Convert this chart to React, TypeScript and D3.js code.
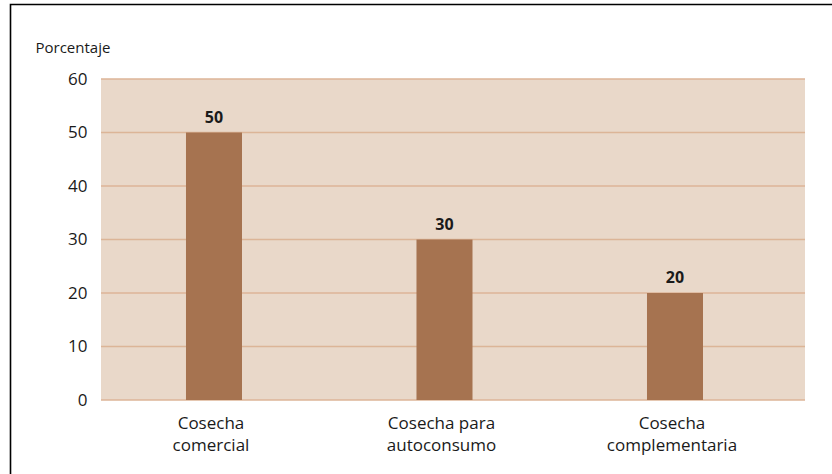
import React from "react";
import * as d3 from "d3";

const categories: string[][] = [
  ["Cosecha", "comercial"],
  ["Cosecha para", "autoconsumo"],
  ["Cosecha", "complementaria"],
];
const values: number[] = [50, 30, 20];
const yTicks: number[] = [0, 10, 20, 30, 40, 50, 60];
const yAxisTitle = "Porcentaje";

const W = 832;
const H = 474;
const plot = { left: 101, right: 805, top: 79, bottom: 400 };
const FONT = "'Open Sans', 'Noto Sans', sans-serif";

export default function App() {
  const x = d3
    .scaleBand<number>()
    .domain(values.map((_, i) => i))
    .range([plot.left, plot.right])
    .paddingInner(0.757)
    .paddingOuter(0.4056)
    .align(0.4545);
  const y = d3.scaleLinear().domain([0, 60]).range([plot.bottom, plot.top]);

  return (
    <svg
      width={W}
      height={H}
      style={{ position: "absolute", left: 0, top: 0, background: "#fff" }}
      fontFamily={FONT}
    >
      {/* outer frame */}
      <path d={`M10.5,${H} V4.5 H${W}`} fill="none" stroke="#000" strokeWidth={1.6} />

      <text x={35.5} y={53} fontSize={15} fill="#1a1a1a">
        {yAxisTitle}
      </text>

      {/* plot background */}
      <rect
        x={plot.left}
        y={plot.top}
        width={plot.right - plot.left}
        height={plot.bottom - plot.top}
        fill="#e9d8c9"
      />

      {yTicks.map((t) => (
        <g key={t}>
          <line
            x1={plot.left}
            x2={plot.right}
            y1={y(t)}
            y2={y(t)}
            stroke="#dcb597"
            strokeWidth={1.4}
          />
          <text
            x={87.5}
            y={y(t)}
            dy="0.35em"
            textAnchor="end"
            fontSize={17}
            fill="#1a1a1a"
          >
            {t}
          </text>
        </g>
      ))}

      {values.map((v, i) => {
        const bx = x(i)!;
        const bw = x.bandwidth();
        return (
          <g key={i}>
            <rect x={bx} y={y(v)} width={bw} height={y(0) - y(v)} fill="#a67350" />
            <text
              x={bx + bw / 2}
              y={y(v) - 10}
              textAnchor="middle"
              fontSize={16}
              fontWeight="bold"
              fill="#1a1a1a"
            >
              {v}
            </text>
            {categories[i].map((line, j) => (
              <text
                key={j}
                x={bx + bw / 2 - 3}
                y={428.5 + j * 22.5}
                textAnchor="middle"
                fontSize={17}
                fill="#1a1a1a"
              >
                {line}
              </text>
            ))}
          </g>
        );
      })}
    </svg>
  );
}
